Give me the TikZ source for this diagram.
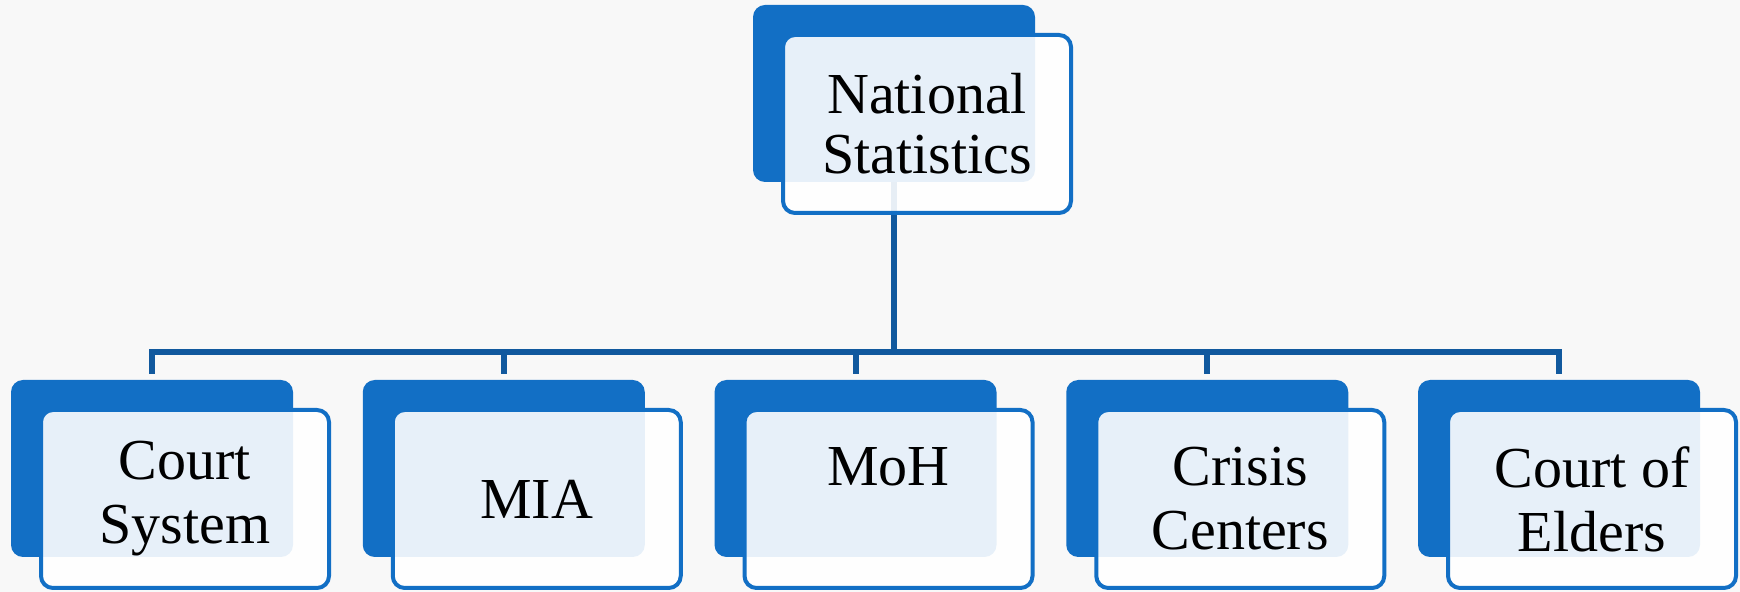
\documentclass[tikz,border=0pt]{standalone}
\usepackage{fontspec}
\setmainfont{Liberation Serif}
\usepackage{tikz}
\usetikzlibrary{positioning, calc, backgrounds}
\definecolor{tabblue}{RGB}{18,111,197}
\definecolor{lineblue}{RGB}{17,89,158}
\definecolor{paper}{RGB}{248,248,248}
\tikzstyle{tabbox} = [rectangle, rounded corners=6pt, fill=tabblue, minimum width=141pt, minimum height=88.5pt, outer sep=0pt]
\tikzstyle{cardbox} = [rectangle, rounded corners=6pt, draw=tabblue, line width=2pt, fill=white, fill opacity=0.9, text opacity=1, minimum width=144pt, minimum height=89pt, align=center, font=\fontsize{29}{32}\selectfont, xshift=16.5pt, yshift=-15.25pt]
\tikzstyle{connector} = [line width=3pt, draw=lineblue]

\begin{document}
\begin{tikzpicture}[x=0.5pt, y=-0.5pt, node distance=34.875pt]
	\useasboundingbox (0,0) rectangle (1740,592);
	% top level
	\node[tabbox] (ns) at (894,93.5) {};
	\node[cardbox, font=\fontsize{29}{30}\selectfont] (nsc) at (ns.center) {National\\Statistics};
	% second level
	\node[tabbox] (cs) at (152,468.5) {};
	\node[tabbox, right=of cs] (mia) {};
	\node[tabbox, right=of mia] (moh) {};
	\node[tabbox, right=of moh] (cc) {};
	\node[tabbox, right=of cc] (ce) {};
	\node[cardbox] (csc) at (cs.center) {Court\\System};
	\node[cardbox] (miac) at (mia.center) {MIA};
	\node[cardbox] (mohc) at (moh.center) {MoH\\{}};
	\node[cardbox] (ccc) at (cc.center) {Crisis\\Centers};
	\node[cardbox] (cec) at (ce.center) {Court of\\Elders};
	% connectors
	\begin{scope}[on background layer]
		\fill[paper] (0,0) rectangle (1740,592);
		\coordinate (hub) at ($(ns.south)+(0,170)$);
		\draw[connector] (ns.south) -- (hub);
		\foreach \n in {cs,mia,moh,cc,ce}
			\draw[connector, shorten >=3pt] (hub) -| (\n.north);
	\end{scope}
\end{tikzpicture}
\end{document}
